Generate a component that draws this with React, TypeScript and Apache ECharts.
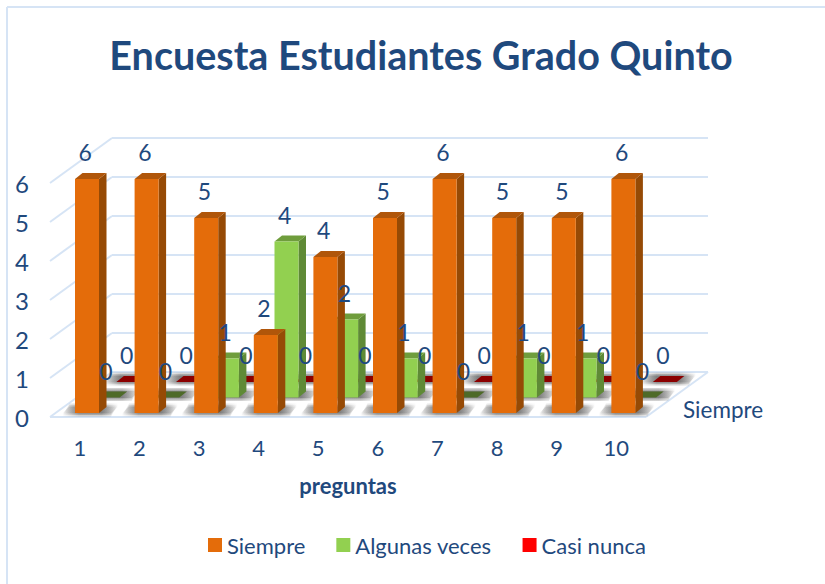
import React, { useEffect, useRef } from "react";
import * as echarts from "echarts";

const categories = ["1", "2", "3", "4", "5", "6", "7", "8", "9", "10"];
const siempre = [6, 6, 5, 2, 4, 5, 6, 5, 5, 6];
const algunasVeces = [0, 0, 1, 4, 2, 1, 0, 1, 1, 0];
const casiNunca = [0, 0, 0, 0, 0, 0, 0, 0, 0, 0];
const yTicks = [0, 1, 2, 3, 4, 5, 6];
const titleText = "Encuesta Estudiantes Grado Quinto";
const xAxisName = "preguntas";
const depthLabel = "Siempre";

const FONT = "Lato";
const TEXT = "#1f497d";
const GRID = "#d6e4f5";
const WALL_DX = 62;
const WALL_DY = 45;
const ROW_DX = 20.7;
const ROW_DY = 15.5;
const BAR_W = 24;
const CAP_DX = 7.5;
const CAP_DY = 6;

const palette = [
  { front: "#e46c0a", top: "#b0560a", side: "#964a05", flat: "#b0560a", name: "Siempre", legend: "#e46c0a" },
  { front: "#92d050", top: "#6f9d3c", side: "#5f8a36", flat: "#4e6a28", name: "Algunas veces", legend: "#92d050" },
  { front: "#ff0000", top: "#8b0000", side: "#8b0000", flat: "#8b0000", name: "Casi nunca", legend: "#ff0000" },
];

const shadowFill = (a: number) =>
  new echarts.graphic.LinearGradient(0, 0, 1, 0, [
    { offset: 0, color: `rgba(70,70,70,0)` },
    { offset: 0.3, color: `rgba(70,70,70,${a})` },
    { offset: 0.7, color: `rgba(70,70,70,${a})` },
    { offset: 1, color: `rgba(70,70,70,0)` },
  ]);

function barRenderer(row: number) {
  const c = palette[row];
  return (_p: any, api: any) => {
    const i = api.value(0);
    const v = api.value(1);
    const base = api.coord([i, 0]);
    const top = api.coord([i, v]);
    const x0 = base[0] - 4.8 + row * ROW_DX;
    const x1 = x0 + BAR_W;
    const yb = base[1] - 4 - row * ROW_DY;
    const yt = top[1] - 4 - row * ROW_DY;
    const poly = (points: number[][], fill: any) => ({
      type: "polygon",
      shape: { points },
      style: { fill },
    });
    const band = (grow: number, alpha: number) =>
      poly(
        [
          [x0 - 13, yb + grow],
          [x1 + 12, yb + grow],
          [x1 + CAP_DX + 12, yb - CAP_DY - grow],
          [x0 + CAP_DX - 13, yb - CAP_DY - grow],
        ],
        shadowFill(alpha)
      );
    return {
      type: "group",
      children: [
        band(3.5, 0.25),
        band(2, 0.3),
        band(0.5, 0.4),
        poly([[x1, yb], [x1 + CAP_DX, yb - CAP_DY], [x1 + CAP_DX, yt - CAP_DY], [x1, yt]], c.side),
        poly([[x0, yt], [x1, yt], [x1 + CAP_DX, yt - CAP_DY], [x0 + CAP_DX, yt - CAP_DY]], v === 0 ? c.flat : c.top),
        poly([[x0, yb], [x1, yb], [x1, yt], [x0, yt]], c.front),
      ],
    };
  };
}

function labelRenderer(row: number) {
  return (_p: any, api: any) => {
    const i = api.value(0);
    const v = api.value(1);
    const top = api.coord([i, v]);
    return {
      type: "text",
      x: top[0] + 5.4 + row * ROW_DX,
      y: top[1] - 31 - row * ROW_DY,
      style: {
        text: String(v),
        fill: TEXT,
        font: `23px ${FONT}`,
        align: "center",
        verticalAlign: "middle",
      },
    };
  };
}

function wallRenderer(p: any, api: any) {
  const v = api.value(0);
  const cs = p.coordSys;
  const y = api.coord([0, v])[1];
  const left = cs.x;
  const right = cs.x + cs.width;
  const line = (x1: number, y1: number, x2: number, y2: number) => ({
    type: "line",
    shape: { x1, y1, x2, y2 },
    style: { stroke: GRID, lineWidth: 2 },
  });
  const children: any[] = [
    line(left, y, left + WALL_DX, y - WALL_DY),
    line(left + WALL_DX, y - WALL_DY, right + WALL_DX, y - WALL_DY),
  ];
  if (v === 0) {
    children.push(line(left, y, right, y));
    children.push(line(right, y, right + WALL_DX, y - WALL_DY));
  }
  return { type: "group", children };
}

export default function App() {
  const ref = useRef<HTMLDivElement>(null);
  useEffect(() => {
    document.body.style.margin = "0";
    document.body.style.overflow = "hidden";
    const chart = echarts.init(ref.current!, null, { renderer: "svg" });
    const rows = [siempre, algunasVeces, casiNunca];
    const pairs = (vals: number[]) => vals.map((v, i) => [categories[i], v]);
    const series: any[] = [
      {
        type: "custom",
        name: "walls",
        silent: true,
        z: 0,
        data: yTicks.map((v) => [v]),
        encode: { y: 0 },
        renderItem: wallRenderer,
      },
    ];
    rows.forEach((vals, row) => {
      series.push({
        type: "custom",
        name: palette[row].name,
        z: 5 - row,
        itemStyle: { color: palette[row].legend },
        data: pairs(vals),
        encode: { x: 0, y: 1 },
        renderItem: barRenderer(row),
      });
    });
    rows.forEach((vals, row) => {
      series.push({
        type: "custom",
        name: palette[row].name,
        silent: true,
        z: 10,
        itemStyle: { color: palette[row].legend },
        data: pairs(vals),
        encode: { x: 0, y: 1 },
        renderItem: labelRenderer(row),
      });
    });
    chart.setOption({
      animation: false,
      backgroundColor: "#ffffff",
      title: {
        text: titleText,
        left: 416,
        textAlign: "center",
        top: 29,
        textStyle: { fontFamily: FONT, fontWeight: "bold", fontSize: 39.5, color: TEXT },
      },
      legend: {
        left: 203,
        top: 529,
        itemWidth: 14,
        itemHeight: 14,
        itemGap: 31,
        icon: "rect",
        data: palette.map((c) => c.name),
        textStyle: { fontFamily: FONT, fontSize: 22, color: TEXT, padding: [0, 0, 4, 0] },
      },
      grid: { left: 50, top: 183, width: 596, height: 234 },
      xAxis: {
        type: "category",
        data: categories,
        name: xAxisName,
        nameLocation: "center",
        nameGap: 57,
        nameTextStyle: { fontFamily: FONT, fontWeight: "bold", fontSize: 22, color: TEXT },
        axisLine: { show: false },
        axisTick: { show: false },
        axisLabel: { fontFamily: FONT, fontSize: 22, color: TEXT, margin: 19 },
      },
      yAxis: {
        type: "value",
        min: 0,
        max: 6,
        interval: 1,
        axisLine: { show: false },
        axisTick: { show: false },
        splitLine: { show: false },
        axisLabel: { fontFamily: FONT, fontSize: 24, color: TEXT, margin: 21, padding: [2, 0, 0, 0] },
      },
      graphic: [
        { type: "line", shape: { x1: 7, y1: 7, x2: 825, y2: 7 }, style: { stroke: GRID, lineWidth: 2 } },
        { type: "line", shape: { x1: 7, y1: 7, x2: 7, y2: 584 }, style: { stroke: GRID, lineWidth: 2 } },
        {
          type: "text",
          x: 683,
          y: 409,
          style: { text: depthLabel, fill: TEXT, font: `22.5px ${FONT}`, align: "left", verticalAlign: "middle" },
        },
      ],
      series,
    });
    return () => chart.dispose();
  }, []);
  return <div ref={ref} style={{ width: 825, height: 584 }} />;
}
